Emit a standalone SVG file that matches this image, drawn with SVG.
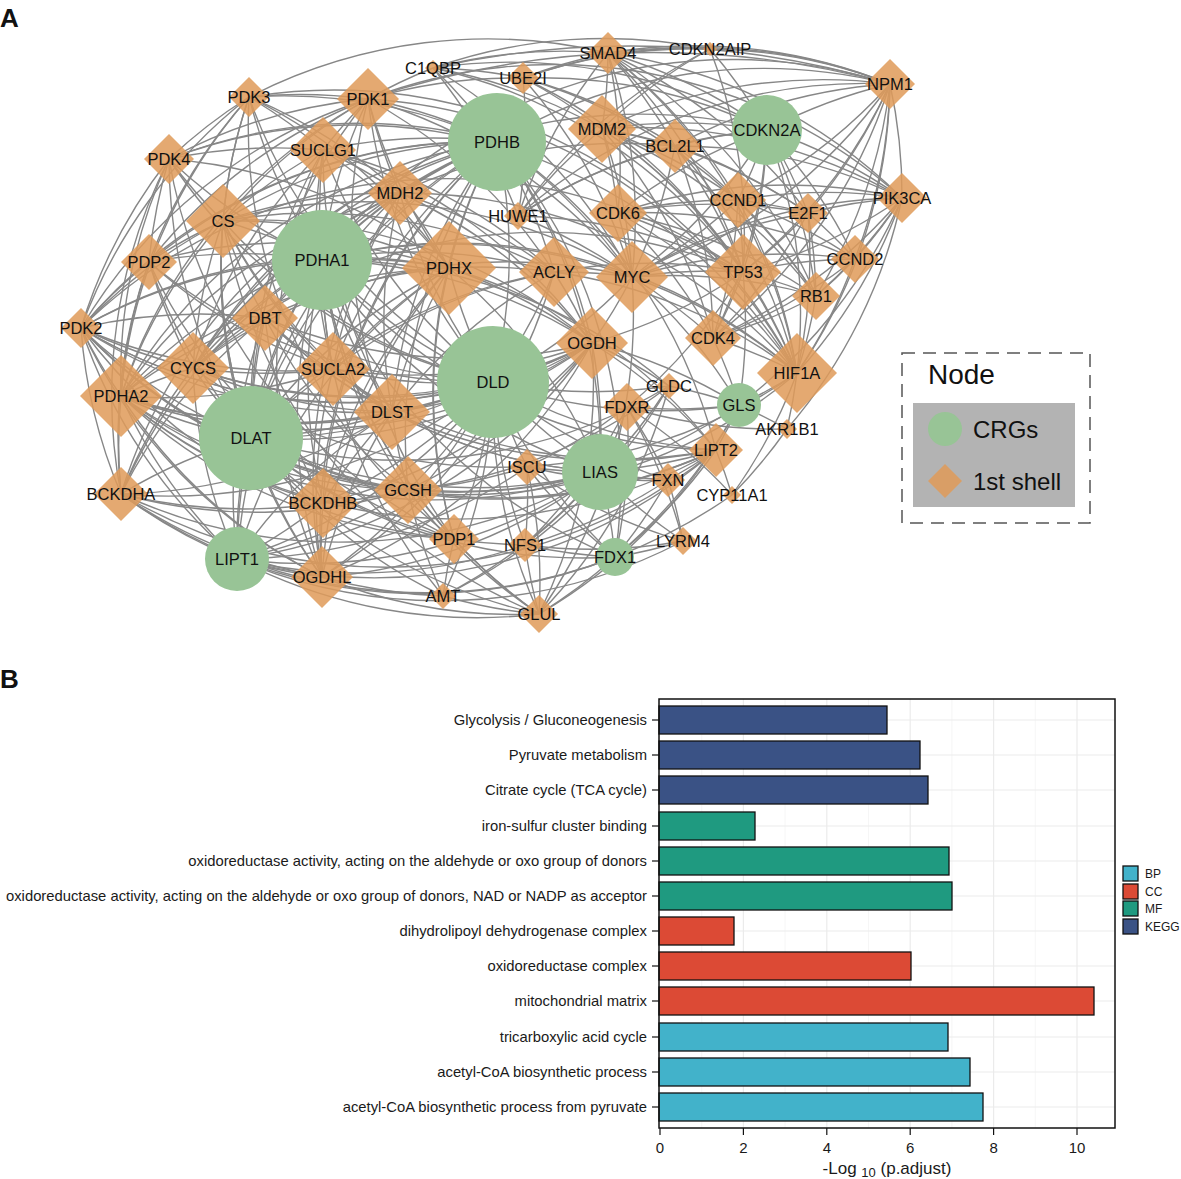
<svg xmlns="http://www.w3.org/2000/svg" width="1181" height="1179" viewBox="0 0 1181 1179">
<style>
.e path{fill:none;stroke:#878787;stroke-width:1.4}
.d{fill:#E09B5A;fill-opacity:0.86}
.c{fill:#98C496}
.t{font-family:"Liberation Sans",Arial,Helvetica,sans-serif;font-size:16.5px;text-anchor:middle;fill:#111}
.lab{font-family:"Liberation Sans",Arial,Helvetica,sans-serif;fill:#111}
.ax{font-family:"Liberation Sans",Arial,Helvetica,sans-serif;fill:#1a1a1a}
.bar{stroke:#111;stroke-width:1.3}
.gmaj{stroke:#EBEBEB;stroke-width:1.2}
.gmin{stroke:#F2F2F2;stroke-width:0.7}
</style>
<rect width="1181" height="1179" fill="#fff"/>
<text class="lab" x="0" y="27" font-size="26" font-weight="bold">A</text>
<text class="lab" x="0" y="688" font-size="26" font-weight="bold">B</text>
<g id="connectors" class="e">
<path d="M493 382A520 520 0 0 1 454 539"/><path d="M493 382A520 520 0 0 1 251 438"/><path d="M493 382A520 520 0 0 1 121 396"/><path d="M493 382A520 520 0 0 1 81 328"/><path d="M493 382A520 520 0 0 1 149 262"/><path d="M493 382A520 520 0 0 1 322 260"/><path d="M493 382A520 520 0 0 1 169 159"/><path d="M493 382A520 520 0 0 1 249 97"/><path d="M493 382A520 520 0 0 1 449 268"/><path d="M493 382A520 520 0 0 1 368 99"/><path d="M497 142A520 520 0 0 1 493 382"/>
<path d="M454 539A520 520 0 0 1 251 438"/><path d="M454 539A520 520 0 0 1 121 396"/><path d="M454 539A520 520 0 0 1 81 328"/><path d="M454 539A520 520 0 0 1 149 262"/><path d="M454 539A520 520 0 0 1 322 260"/><path d="M454 539A520 520 0 0 1 169 159"/><path d="M454 539A520 520 0 0 1 249 97"/><path d="M454 539A520 520 0 0 1 449 268"/><path d="M454 539A520 520 0 0 1 368 99"/><path d="M454 539A520 520 0 0 1 497 142"/>
<path d="M251 438A520 520 0 0 1 121 396"/><path d="M251 438A520 520 0 0 1 81 328"/><path d="M251 438A520 520 0 0 1 149 262"/><path d="M251 438A520 520 0 0 1 322 260"/><path d="M251 438A520 520 0 0 1 169 159"/><path d="M251 438A520 520 0 0 1 249 97"/><path d="M251 438A520 520 0 0 1 449 268"/><path d="M251 438A520 520 0 0 1 368 99"/><path d="M251 438A520 520 0 0 1 497 142"/>
<path d="M121 396A520 520 0 0 1 81 328"/><path d="M121 396A520 520 0 0 1 149 262"/><path d="M121 396A520 520 0 0 1 322 260"/><path d="M121 396A520 520 0 0 1 169 159"/><path d="M121 396A520 520 0 0 1 249 97"/><path d="M121 396A520 520 0 0 1 449 268"/><path d="M121 396A520 520 0 0 1 368 99"/><path d="M121 396A520 520 0 0 1 497 142"/>
<path d="M81 328A520 520 0 0 1 149 262"/><path d="M81 328A520 520 0 0 1 322 260"/><path d="M81 328A520 520 0 0 1 169 159"/><path d="M81 328A520 520 0 0 1 249 97"/><path d="M81 328A520 520 0 0 1 449 268"/><path d="M81 328A520 520 0 0 1 368 99"/><path d="M81 328A520 520 0 0 1 497 142"/>
<path d="M149 262A520 520 0 0 1 322 260"/><path d="M149 262A520 520 0 0 1 169 159"/><path d="M149 262A520 520 0 0 1 249 97"/><path d="M149 262A520 520 0 0 1 449 268"/><path d="M149 262A520 520 0 0 1 368 99"/><path d="M149 262A520 520 0 0 1 497 142"/>
<path d="M322 260A520 520 0 0 1 169 159"/><path d="M322 260A520 520 0 0 1 249 97"/><path d="M322 260A520 520 0 0 1 449 268"/><path d="M322 260A520 520 0 0 1 368 99"/><path d="M322 260A520 520 0 0 1 497 142"/>
<path d="M169 159A520 520 0 0 1 249 97"/><path d="M169 159A520 520 0 0 1 449 268"/><path d="M169 159A520 520 0 0 1 368 99"/><path d="M169 159A520 520 0 0 1 497 142"/>
<path d="M249 97A520 520 0 0 1 449 268"/><path d="M249 97A520 520 0 0 1 368 99"/><path d="M249 97A520 520 0 0 1 497 142"/><path d="M449 268A520 520 0 0 1 368 99"/><path d="M449 268A520 520 0 0 1 497 142"/><path d="M368 99A520 520 0 0 1 497 142"/>
<path d="M223 221A520 520 0 0 1 400 193"/><path d="M223 221A520 520 0 0 1 323 150"/><path d="M333 369A520 520 0 0 1 223 221"/><path d="M392 412A520 520 0 0 1 223 221"/><path d="M223 221A520 520 0 0 1 592 343"/><path d="M322 577A520 520 0 0 1 223 221"/><path d="M223 221A520 520 0 0 1 554 272"/>
<path d="M323 150A520 520 0 0 1 400 193"/><path d="M333 369A520 520 0 0 1 400 193"/><path d="M392 412A520 520 0 0 1 400 193"/><path d="M400 193A520 520 0 0 1 592 343"/><path d="M322 577A520 520 0 0 1 400 193"/><path d="M400 193A520 520 0 0 1 554 272"/>
<path d="M333 369A520 520 0 0 1 323 150"/><path d="M392 412A520 520 0 0 1 323 150"/><path d="M323 150A520 520 0 0 1 592 343"/><path d="M322 577A520 520 0 0 1 323 150"/><path d="M323 150A520 520 0 0 1 554 272"/>
<path d="M392 412A520 520 0 0 1 333 369"/><path d="M592 343A520 520 0 0 1 333 369"/><path d="M322 577A520 520 0 0 1 333 369"/><path d="M333 369A520 520 0 0 1 554 272"/>
<path d="M592 343A520 520 0 0 1 392 412"/><path d="M322 577A520 520 0 0 1 392 412"/><path d="M392 412A520 520 0 0 1 554 272"/><path d="M592 343A520 520 0 0 1 322 577"/><path d="M554 272A520 520 0 0 1 592 343"/><path d="M554 272A520 520 0 0 1 322 577"/>
<path d="M493 382A520 520 0 0 1 223 221"/><path d="M493 382A520 520 0 0 1 400 193"/><path d="M493 382A520 520 0 0 1 323 150"/><path d="M493 382A520 520 0 0 1 333 369"/><path d="M493 382A520 520 0 0 1 392 412"/><path d="M592 343A520 520 0 0 1 493 382"/><path d="M493 382A520 520 0 0 1 322 577"/><path d="M554 272A520 520 0 0 1 493 382"/>
<path d="M223 221A520 520 0 0 1 322 260"/><path d="M322 260A520 520 0 0 1 400 193"/><path d="M322 260A520 520 0 0 1 323 150"/><path d="M333 369A520 520 0 0 1 322 260"/><path d="M392 412A520 520 0 0 1 322 260"/><path d="M322 260A520 520 0 0 1 592 343"/><path d="M322 577A520 520 0 0 1 322 260"/><path d="M322 260A520 520 0 0 1 554 272"/>
<path d="M223 221A520 520 0 0 1 497 142"/><path d="M400 193A520 520 0 0 1 497 142"/><path d="M323 150A520 520 0 0 1 497 142"/><path d="M333 369A520 520 0 0 1 497 142"/><path d="M392 412A520 520 0 0 1 497 142"/><path d="M497 142A520 520 0 0 1 592 343"/><path d="M322 577A520 520 0 0 1 497 142"/><path d="M497 142A520 520 0 0 1 554 272"/>
<path d="M251 438A520 520 0 0 1 223 221"/><path d="M251 438A520 520 0 0 1 400 193"/><path d="M251 438A520 520 0 0 1 323 150"/><path d="M251 438A520 520 0 0 1 333 369"/><path d="M392 412A520 520 0 0 1 251 438"/><path d="M592 343A520 520 0 0 1 251 438"/><path d="M322 577A520 520 0 0 1 251 438"/><path d="M251 438A520 520 0 0 1 554 272"/>
<path d="M223 221A520 520 0 0 1 449 268"/><path d="M400 193A520 520 0 0 1 449 268"/><path d="M323 150A520 520 0 0 1 449 268"/><path d="M333 369A520 520 0 0 1 449 268"/><path d="M392 412A520 520 0 0 1 449 268"/><path d="M449 268A520 520 0 0 1 592 343"/><path d="M322 577A520 520 0 0 1 449 268"/><path d="M449 268A520 520 0 0 1 554 272"/>
<path d="M223 221A520 520 0 0 1 169 159"/><path d="M149 262A520 520 0 0 1 223 221"/><path d="M81 328A520 520 0 0 1 223 221"/><path d="M223 221A520 520 0 0 1 249 97"/><path d="M223 221A520 520 0 0 1 368 99"/><path d="M249 97A520 520 0 0 1 323 150"/><path d="M323 150A520 520 0 0 1 368 99"/><path d="M169 159A520 520 0 0 1 323 150"/><path d="M400 193A520 520 0 0 1 368 99"/><path d="M249 97A520 520 0 0 1 400 193"/>
<path d="M333 369A520 520 0 0 1 81 328"/><path d="M333 369A520 520 0 0 1 149 262"/><path d="M392 412A520 520 0 0 1 81 328"/><path d="M322 577A520 520 0 0 1 81 328"/><path d="M368 99A520 520 0 0 1 554 272"/><path d="M121 396A520 520 0 0 1 223 221"/><path d="M333 369A520 520 0 0 1 121 396"/><path d="M322 577A520 520 0 0 1 121 396"/><path d="M392 412A520 520 0 0 1 121 396"/><path d="M121 396A520 520 0 0 1 400 193"/>
<path d="M121 494A520 520 0 0 1 265 318"/><path d="M323 503A520 520 0 0 1 265 318"/><path d="M323 503A520 520 0 0 1 121 494"/><path d="M493 382A520 520 0 0 1 265 318"/><path d="M251 438A520 520 0 0 1 265 318"/><path d="M265 318A520 520 0 0 1 322 260"/><path d="M265 318A520 520 0 0 1 497 142"/><path d="M265 318A520 520 0 0 1 449 268"/><path d="M392 412A520 520 0 0 1 265 318"/><path d="M592 343A520 520 0 0 1 265 318"/><path d="M121 396A520 520 0 0 1 265 318"/><path d="M600 472A520 520 0 0 1 265 318"/><path d="M237 559A520 520 0 0 1 265 318"/><path d="M716 450A520 520 0 0 1 265 318"/><path d="M408 490A520 520 0 0 1 265 318"/><path d="M81 328A520 520 0 0 1 265 318"/><path d="M265 318A520 520 0 0 1 223 221"/>
<path d="M493 382A520 520 0 0 1 121 494"/><path d="M121 494A520 520 0 0 1 251 438"/><path d="M121 494A520 520 0 0 1 322 260"/><path d="M121 494A520 520 0 0 1 497 142"/><path d="M121 494A520 520 0 0 1 121 396"/><path d="M392 412A520 520 0 0 1 121 494"/><path d="M121 494A520 520 0 0 1 81 328"/><path d="M121 494A520 520 0 0 1 169 159"/><path d="M322 577A520 520 0 0 1 121 494"/><path d="M237 559A520 520 0 0 1 121 494"/><path d="M121 494A520 520 0 0 1 149 262"/>
<path d="M600 472A520 520 0 0 1 121 494"/><path d="M408 490A520 520 0 0 1 121 494"/><path d="M716 450A520 520 0 0 1 121 494"/><path d="M615 557A520 520 0 0 1 121 494"/><path d="M600 472A520 520 0 0 1 121 396"/><path d="M716 450A520 520 0 0 1 121 396"/><path d="M600 472A520 520 0 0 1 81 328"/><path d="M408 490A520 520 0 0 1 121 396"/><path d="M592 343A520 520 0 0 1 121 396"/><path d="M592 343A520 520 0 0 1 81 328"/><path d="M408 490A520 520 0 0 1 81 328"/>
<path d="M493 382A520 520 0 0 1 323 503"/><path d="M323 503A520 520 0 0 1 251 438"/><path d="M323 503A520 520 0 0 1 322 260"/><path d="M323 503A520 520 0 0 1 497 142"/><path d="M323 503A520 520 0 0 1 121 396"/><path d="M323 503A520 520 0 0 1 392 412"/><path d="M592 343A520 520 0 0 1 323 503"/><path d="M322 577A520 520 0 0 1 323 503"/><path d="M323 503A520 520 0 0 1 237 559"/><path d="M323 503A520 520 0 0 1 449 268"/>
<path d="M443 596A520 520 0 0 1 408 490"/><path d="M669 386A520 520 0 0 1 408 490"/><path d="M669 386A520 520 0 0 1 443 596"/><path d="M493 382A520 520 0 0 1 408 490"/><path d="M493 382A520 520 0 0 1 443 596"/><path d="M669 386A520 520 0 0 1 493 382"/><path d="M600 472A520 520 0 0 1 408 490"/><path d="M408 490A520 520 0 0 1 237 559"/><path d="M716 450A520 520 0 0 1 408 490"/><path d="M408 490A520 520 0 0 1 251 438"/><path d="M408 490A520 520 0 0 1 392 412"/><path d="M408 490A520 520 0 0 1 322 260"/><path d="M408 490A520 520 0 0 1 497 142"/><path d="M592 343A520 520 0 0 1 408 490"/><path d="M408 490A520 520 0 0 1 323 503"/>
<path d="M443 596A520 520 0 0 1 251 438"/><path d="M539 614A520 520 0 0 1 443 596"/><path d="M600 472A520 520 0 0 1 443 596"/><path d="M443 596A520 520 0 0 1 322 260"/><path d="M669 386A520 520 0 0 1 739 405"/><path d="M322 260A520 520 0 0 1 669 386"/><path d="M669 386A520 520 0 0 1 600 472"/><path d="M592 343A520 520 0 0 1 669 386"/><path d="M669 386A520 520 0 0 1 251 438"/><path d="M443 596A520 520 0 0 1 454 539"/><path d="M443 596A520 520 0 0 1 322 577"/>
<path d="M600 472A520 520 0 0 1 237 559"/><path d="M716 450A520 520 0 0 1 600 472"/><path d="M716 450A520 520 0 0 1 237 559"/><path d="M600 472A520 520 0 0 1 251 438"/><path d="M600 472A520 520 0 0 1 493 382"/><path d="M600 472A520 520 0 0 1 322 260"/><path d="M497 142A520 520 0 0 1 600 472"/><path d="M600 472A520 520 0 0 1 392 412"/><path d="M592 343A520 520 0 0 1 600 472"/><path d="M600 472A520 520 0 0 1 615 557"/><path d="M627 407A520 520 0 0 1 600 472"/><path d="M600 472A520 520 0 0 1 527 467"/><path d="M600 472A520 520 0 0 1 525 545"/><path d="M668 480A520 520 0 0 1 600 472"/><path d="M683 541A520 520 0 0 1 600 472"/><path d="M739 405A520 520 0 0 1 600 472"/><path d="M449 268A520 520 0 0 1 600 472"/><path d="M600 472A520 520 0 0 1 322 577"/>
<path d="M237 559A520 520 0 0 1 251 438"/><path d="M493 382A520 520 0 0 1 237 559"/><path d="M237 559A520 520 0 0 1 322 260"/><path d="M237 559A520 520 0 0 1 497 142"/><path d="M237 559A520 520 0 0 1 392 412"/><path d="M592 343A520 520 0 0 1 237 559"/><path d="M322 577A520 520 0 0 1 237 559"/><path d="M237 559A520 520 0 0 1 449 268"/><path d="M237 559A520 520 0 0 1 121 396"/><path d="M539 614A520 520 0 0 1 237 559"/><path d="M237 559A520 520 0 0 1 81 328"/>
<path d="M716 450A520 520 0 0 1 251 438"/><path d="M716 450A520 520 0 0 1 493 382"/><path d="M716 450A520 520 0 0 1 392 412"/><path d="M716 450A520 520 0 0 1 322 260"/><path d="M497 142A520 520 0 0 1 716 450"/><path d="M592 343A520 520 0 0 1 716 450"/><path d="M449 268A520 520 0 0 1 716 450"/>
<path d="M627 407A520 520 0 0 1 615 557"/><path d="M615 557A520 520 0 0 1 527 467"/><path d="M615 557A520 520 0 0 1 525 545"/><path d="M668 480A520 520 0 0 1 615 557"/><path d="M683 541A520 520 0 0 1 615 557"/><path d="M732 495A520 520 0 0 1 615 557"/><path d="M627 407A520 520 0 0 1 527 467"/><path d="M627 407A520 520 0 0 1 525 545"/><path d="M627 407A520 520 0 0 1 668 480"/><path d="M627 407A520 520 0 0 1 732 495"/><path d="M627 407A520 520 0 0 1 683 541"/><path d="M787 429A520 520 0 0 1 627 407"/>
<path d="M527 467A520 520 0 0 1 525 545"/><path d="M668 480A520 520 0 0 1 527 467"/><path d="M683 541A520 520 0 0 1 527 467"/><path d="M668 480A520 520 0 0 1 525 545"/><path d="M683 541A520 520 0 0 1 525 545"/><path d="M668 480A520 520 0 0 1 683 541"/><path d="M787 429A520 520 0 0 1 732 495"/>
<path d="M615 557A520 520 0 0 1 493 382"/><path d="M615 557A520 520 0 0 1 251 438"/><path d="M615 557A520 520 0 0 1 322 260"/><path d="M497 142A520 520 0 0 1 615 557"/><path d="M615 557A520 520 0 0 1 237 559"/><path d="M739 405A520 520 0 0 1 615 557"/><path d="M716 450A520 520 0 0 1 615 557"/><path d="M615 557A520 520 0 0 1 539 614"/><path d="M716 450A520 520 0 0 1 668 480"/><path d="M525 545A520 520 0 0 1 237 559"/><path d="M527 467A520 520 0 0 1 237 559"/><path d="M739 405A520 520 0 0 1 787 429"/><path d="M797 373A520 520 0 0 1 787 429"/><path d="M716 450A520 520 0 0 1 732 495"/><path d="M527 467A520 520 0 0 1 493 382"/><path d="M525 545A520 520 0 0 1 493 382"/><path d="M668 480A520 520 0 0 1 493 382"/><path d="M683 541A520 520 0 0 1 237 559"/><path d="M539 614A520 520 0 0 1 525 545"/><path d="M525 545A520 520 0 0 1 454 539"/><path d="M527 467A520 520 0 0 1 408 490"/>
<path d="M739 405A520 520 0 0 1 539 614"/><path d="M632 277A520 520 0 0 1 739 405"/><path d="M743 272A520 520 0 0 1 739 405"/><path d="M797 373A520 520 0 0 1 739 405"/><path d="M739 405A520 520 0 0 1 493 382"/><path d="M592 343A520 520 0 0 1 739 405"/><path d="M713 338A520 520 0 0 1 739 405"/><path d="M739 405A520 520 0 0 1 716 450"/><path d="M739 405A520 520 0 0 1 627 407"/>
<path d="M539 614A520 520 0 0 1 493 382"/><path d="M539 614A520 520 0 0 1 322 260"/><path d="M592 343A520 520 0 0 1 539 614"/><path d="M669 386A520 520 0 0 1 539 614"/><path d="M539 614A520 520 0 0 1 454 539"/><path d="M539 614A520 520 0 0 1 251 438"/><path d="M539 614A520 520 0 0 1 223 221"/><path d="M527 467A520 520 0 0 1 539 614"/><path d="M632 277A520 520 0 0 1 539 614"/><path d="M539 614A520 520 0 0 1 408 490"/><path d="M539 614A520 520 0 0 1 322 577"/>
<path d="M193 368A520 520 0 0 1 743 272"/><path d="M193 368A520 520 0 0 1 675 146"/><path d="M797 373A520 520 0 0 1 193 368"/><path d="M193 368A520 520 0 0 1 322 260"/><path d="M493 382A520 520 0 0 1 193 368"/><path d="M193 368A520 520 0 0 1 223 221"/><path d="M193 368A520 520 0 0 1 400 193"/><path d="M193 368A520 520 0 0 1 323 150"/><path d="M333 369A520 520 0 0 1 193 368"/><path d="M251 438A520 520 0 0 1 193 368"/><path d="M193 368A520 520 0 0 1 497 142"/><path d="M392 412A520 520 0 0 1 193 368"/><path d="M592 343A520 520 0 0 1 193 368"/><path d="M193 368A520 520 0 0 1 632 277"/><path d="M121 396A520 520 0 0 1 193 368"/><path d="M193 368A520 520 0 0 1 81 328"/><path d="M193 368A520 520 0 0 1 265 318"/><path d="M193 368A520 520 0 0 1 149 262"/><path d="M121 494A520 520 0 0 1 193 368"/><path d="M193 368A520 520 0 0 1 767 130"/><path d="M237 559A520 520 0 0 1 193 368"/>
<path d="M632 277A520 520 0 0 1 743 272"/><path d="M602 129A520 520 0 0 1 743 272"/><path d="M767 130A520 520 0 0 1 743 272"/><path d="M743 272A520 520 0 0 1 713 338"/><path d="M618 213A520 520 0 0 1 743 272"/><path d="M738 200A520 520 0 0 1 743 272"/><path d="M743 272A520 520 0 0 1 855 259"/><path d="M743 272A520 520 0 0 1 816 296"/><path d="M808 213A520 520 0 0 1 743 272"/><path d="M890 84A520 520 0 0 1 743 272"/><path d="M902 198A520 520 0 0 1 743 272"/><path d="M743 272A520 520 0 0 1 797 373"/><path d="M608 53A520 520 0 0 1 743 272"/><path d="M523 78A520 520 0 0 1 743 272"/><path d="M675 146A520 520 0 0 1 743 272"/><path d="M518 216A520 520 0 0 1 743 272"/><path d="M710 49A520 520 0 0 1 743 272"/><path d="M433 68A520 520 0 0 1 743 272"/><path d="M743 272A520 520 0 0 1 627 407"/><path d="M81 328A520 520 0 0 1 743 272"/><path d="M554 272A520 520 0 0 1 743 272"/><path d="M743 272A520 520 0 0 1 592 343"/>
<path d="M602 129A520 520 0 0 1 632 277"/><path d="M767 130A520 520 0 0 1 632 277"/><path d="M632 277A520 520 0 0 1 713 338"/><path d="M618 213A520 520 0 0 1 632 277"/><path d="M738 200A520 520 0 0 1 632 277"/><path d="M632 277A520 520 0 0 1 855 259"/><path d="M632 277A520 520 0 0 1 816 296"/><path d="M632 277A520 520 0 0 1 808 213"/><path d="M890 84A520 520 0 0 1 632 277"/><path d="M632 277A520 520 0 0 1 902 198"/><path d="M632 277A520 520 0 0 1 797 373"/><path d="M608 53A520 520 0 0 1 632 277"/><path d="M523 78A520 520 0 0 1 632 277"/><path d="M675 146A520 520 0 0 1 632 277"/><path d="M518 216A520 520 0 0 1 632 277"/><path d="M433 68A520 520 0 0 1 632 277"/><path d="M368 99A520 520 0 0 1 632 277"/><path d="M554 272A520 520 0 0 1 632 277"/><path d="M322 260A520 520 0 0 1 632 277"/><path d="M223 221A520 520 0 0 1 632 277"/><path d="M497 142A520 520 0 0 1 632 277"/><path d="M632 277A520 520 0 0 1 592 343"/><path d="M632 277A520 520 0 0 1 493 382"/>
<path d="M602 129A520 520 0 0 1 767 130"/><path d="M602 129A520 520 0 0 1 713 338"/><path d="M602 129A520 520 0 0 1 618 213"/><path d="M602 129A520 520 0 0 1 738 200"/><path d="M602 129A520 520 0 0 1 816 296"/><path d="M602 129A520 520 0 0 1 808 213"/><path d="M602 129A520 520 0 0 1 890 84"/><path d="M602 129A520 520 0 0 1 902 198"/><path d="M602 129A520 520 0 0 1 797 373"/><path d="M608 53A520 520 0 0 1 602 129"/><path d="M523 78A520 520 0 0 1 602 129"/><path d="M602 129A520 520 0 0 1 675 146"/><path d="M518 216A520 520 0 0 1 602 129"/><path d="M433 68A520 520 0 0 1 602 129"/><path d="M602 129A520 520 0 0 1 710 49"/>
<path d="M767 130A520 520 0 0 1 713 338"/><path d="M618 213A520 520 0 0 1 767 130"/><path d="M767 130A520 520 0 0 1 738 200"/><path d="M767 130A520 520 0 0 1 855 259"/><path d="M767 130A520 520 0 0 1 816 296"/><path d="M767 130A520 520 0 0 1 808 213"/><path d="M767 130A520 520 0 0 1 890 84"/><path d="M767 130A520 520 0 0 1 902 198"/><path d="M767 130A520 520 0 0 1 797 373"/><path d="M608 53A520 520 0 0 1 767 130"/><path d="M523 78A520 520 0 0 1 767 130"/><path d="M675 146A520 520 0 0 1 767 130"/><path d="M518 216A520 520 0 0 1 767 130"/><path d="M710 49A520 520 0 0 1 767 130"/><path d="M433 68A520 520 0 0 1 767 130"/>
<path d="M618 213A520 520 0 0 1 713 338"/><path d="M738 200A520 520 0 0 1 713 338"/><path d="M855 259A520 520 0 0 1 713 338"/><path d="M816 296A520 520 0 0 1 713 338"/><path d="M808 213A520 520 0 0 1 713 338"/><path d="M890 84A520 520 0 0 1 713 338"/><path d="M902 198A520 520 0 0 1 713 338"/><path d="M713 338A520 520 0 0 1 797 373"/><path d="M675 146A520 520 0 0 1 713 338"/>
<path d="M618 213A520 520 0 0 1 738 200"/><path d="M618 213A520 520 0 0 1 855 259"/><path d="M618 213A520 520 0 0 1 816 296"/><path d="M618 213A520 520 0 0 1 808 213"/><path d="M618 213A520 520 0 0 1 902 198"/><path d="M618 213A520 520 0 0 1 797 373"/><path d="M608 53A520 520 0 0 1 618 213"/>
<path d="M738 200A520 520 0 0 1 855 259"/><path d="M738 200A520 520 0 0 1 816 296"/><path d="M738 200A520 520 0 0 1 808 213"/><path d="M738 200A520 520 0 0 1 902 198"/><path d="M738 200A520 520 0 0 1 797 373"/><path d="M608 53A520 520 0 0 1 738 200"/><path d="M890 84A520 520 0 0 1 738 200"/><path d="M675 146A520 520 0 0 1 738 200"/>
<path d="M855 259A520 520 0 0 1 816 296"/><path d="M808 213A520 520 0 0 1 855 259"/><path d="M902 198A520 520 0 0 1 855 259"/><path d="M855 259A520 520 0 0 1 797 373"/>
<path d="M808 213A520 520 0 0 1 816 296"/><path d="M890 84A520 520 0 0 1 816 296"/><path d="M902 198A520 520 0 0 1 816 296"/><path d="M816 296A520 520 0 0 1 797 373"/><path d="M608 53A520 520 0 0 1 816 296"/><path d="M523 78A520 520 0 0 1 816 296"/>
<path d="M890 84A520 520 0 0 1 808 213"/><path d="M808 213A520 520 0 0 1 902 198"/><path d="M808 213A520 520 0 0 1 797 373"/><path d="M675 146A520 520 0 0 1 808 213"/><path d="M608 53A520 520 0 0 1 808 213"/>
<path d="M890 84A520 520 0 0 1 902 198"/><path d="M890 84A520 520 0 0 1 797 373"/><path d="M608 53A520 520 0 0 1 890 84"/><path d="M523 78A520 520 0 0 1 890 84"/><path d="M675 146A520 520 0 0 1 890 84"/><path d="M518 216A520 520 0 0 1 890 84"/><path d="M710 49A520 520 0 0 1 890 84"/><path d="M433 68A900 900 0 0 1 890 84"/><path d="M497 142A520 520 0 0 1 890 84"/><path d="M368 99A900 900 0 0 1 890 84"/><path d="M322 260A520 520 0 0 1 890 84"/><path d="M890 84A520 520 0 0 1 855 259"/>
<path d="M902 198A520 520 0 0 1 797 373"/><path d="M608 53A520 520 0 0 1 902 198"/><path d="M675 146A520 520 0 0 1 902 198"/><path d="M368 99A520 520 0 0 1 902 198"/><path d="M902 198A520 520 0 0 1 739 405"/><path d="M902 198A520 520 0 0 1 787 429"/>
<path d="M608 53A520 520 0 0 1 797 373"/><path d="M675 146A520 520 0 0 1 797 373"/><path d="M368 99A520 520 0 0 1 797 373"/><path d="M249 97A520 520 0 0 1 797 373"/><path d="M797 373A520 520 0 0 1 81 328"/><path d="M169 159A520 520 0 0 1 797 373"/><path d="M322 260A520 520 0 0 1 797 373"/><path d="M400 193A520 520 0 0 1 797 373"/><path d="M554 272A520 520 0 0 1 797 373"/><path d="M797 373A520 520 0 0 1 732 495"/>
<path d="M523 78A520 520 0 0 1 608 53"/><path d="M608 53A520 520 0 0 1 675 146"/><path d="M518 216A520 520 0 0 1 608 53"/><path d="M608 53A520 520 0 0 1 710 49"/><path d="M523 78A520 520 0 0 1 675 146"/><path d="M523 78A520 520 0 0 1 518 216"/><path d="M433 68A520 520 0 0 1 523 78"/><path d="M523 78A520 520 0 0 1 710 49"/><path d="M518 216A520 520 0 0 1 675 146"/><path d="M518 216A520 520 0 0 1 710 49"/><path d="M433 68A520 520 0 0 1 518 216"/><path d="M433 68A520 520 0 0 1 608 53"/><path d="M433 68A520 520 0 0 1 497 142"/><path d="M368 99A520 520 0 0 1 433 68"/><path d="M433 68A520 520 0 0 1 710 49"/><path d="M249 97A520 520 0 0 1 608 53"/><path d="M368 99A520 520 0 0 1 523 78"/>
</g>
<g id="nodes">
<g id="n-PDHX"><polygon class="d" points="449,221 496,268 449,315 402,268"/><text class="t" x="449" y="274">PDHX</text></g>
<g id="n-PDHA2"><polygon class="d" points="121,355 162,396 121,437 80,396"/><text class="t" x="121" y="402">PDHA2</text></g>
<g id="n-HIF1A"><polygon class="d" points="797,333 837,373 797,413 757,373"/><text class="t" x="797" y="379">HIF1A</text></g>
<g id="n-DLST"><polygon class="d" points="392,374 430,412 392,450 354,412"/><text class="t" x="392" y="418">DLST</text></g>
<g id="n-TP53"><polygon class="d" points="743,234 781,272 743,310 705,272"/><text class="t" x="743" y="278">TP53</text></g>
<g id="n-CS"><polygon class="d" points="223,184 260,221 223,258 186,221"/><text class="t" x="223" y="227">CS</text></g>
<g id="n-SUCLA2"><polygon class="d" points="333,332 370,369 333,406 296,369"/><text class="t" x="333" y="375">SUCLA2</text></g>
<g id="n-CYCS"><polygon class="d" points="193,332 229,368 193,404 157,368"/><text class="t" x="193" y="374">CYCS</text></g>
<g id="n-OGDH"><polygon class="d" points="592,307 628,343 592,379 556,343"/><text class="t" x="592" y="349">OGDH</text></g>
<g id="n-MYC"><polygon class="d" points="632,241 668,277 632,313 596,277"/><text class="t" x="632" y="283">MYC</text></g>
<g id="n-ACLY"><polygon class="d" points="554,237 589,272 554,307 519,272"/><text class="t" x="554" y="278">ACLY</text></g>
<g id="n-BCKDHB"><polygon class="d" points="323,468 358,503 323,538 288,503"/><text class="t" x="323" y="509">BCKDHB</text></g>
<g id="n-MDM2"><polygon class="d" points="602,95 636,129 602,163 568,129"/><text class="t" x="602" y="135">MDM2</text></g>
<g id="n-GCSH"><polygon class="d" points="408,456 442,490 408,524 374,490"/><text class="t" x="408" y="496">GCSH</text></g>
<g id="n-SUCLG1"><polygon class="d" points="323,117 356,150 323,183 290,150"/><text class="t" x="323" y="156">SUCLG1</text></g>
<g id="n-DBT"><polygon class="d" points="265,285 298,318 265,351 232,318"/><text class="t" x="265" y="324">DBT</text></g>
<g id="n-MDH2"><polygon class="d" points="400,161 432,193 400,225 368,193"/><text class="t" x="400" y="199">MDH2</text></g>
<g id="n-PDK1"><polygon class="d" points="368,68 399,99 368,130 337,99"/><text class="t" x="368" y="105">PDK1</text></g>
<g id="n-OGDHL"><polygon class="d" points="322,546 353,577 322,608 291,577"/><text class="t" x="322" y="583">OGDHL</text></g>
<g id="n-CDK6"><polygon class="d" points="618,184 647,213 618,242 589,213"/><text class="t" x="618" y="219">CDK6</text></g>
<g id="n-CCND1"><polygon class="d" points="738,172 766,200 738,228 710,200"/><text class="t" x="738" y="206">CCND1</text></g>
<g id="n-CDK4"><polygon class="d" points="713,310 741,338 713,366 685,338"/><text class="t" x="713" y="344">CDK4</text></g>
<g id="n-PDP2"><polygon class="d" points="149,234 177,262 149,290 121,262"/><text class="t" x="149" y="268">PDP2</text></g>
<g id="n-BCKDHA"><polygon class="d" points="121,467 148,494 121,521 94,494"/><text class="t" x="121" y="500">BCKDHA</text></g>
<g id="n-BCL2L1"><polygon class="d" points="675,119 702,146 675,173 648,146"/><text class="t" x="675" y="152">BCL2L1</text></g>
<g id="n-LIPT2"><polygon class="d" points="716,423 743,450 716,477 689,450"/><text class="t" x="716" y="456">LIPT2</text></g>
<g id="n-PDK4"><polygon class="d" points="169,134 194,159 169,184 144,159"/><text class="t" x="169" y="165">PDK4</text></g>
<g id="n-PDP1"><polygon class="d" points="454,514 479,539 454,564 429,539"/><text class="t" x="454" y="545">PDP1</text></g>
<g id="n-NPM1"><polygon class="d" points="890,59 915,84 890,109 865,84"/><text class="t" x="890" y="90">NPM1</text></g>
<g id="n-PIK3CA"><polygon class="d" points="902,173 927,198 902,223 877,198"/><text class="t" x="902" y="204">PIK3CA</text></g>
<g id="n-FDXR"><polygon class="d" points="627,383 651,407 627,431 603,407"/><text class="t" x="627" y="413">FDXR</text></g>
<g id="n-CCND2"><polygon class="d" points="855,235 879,259 855,283 831,259"/><text class="t" x="855" y="265">CCND2</text></g>
<g id="n-RB1"><polygon class="d" points="816,272 840,296 816,320 792,296"/><text class="t" x="816" y="302">RB1</text></g>
<g id="n-SMAD4"><polygon class="d" points="608,32 629,53 608,74 587,53"/><text class="t" x="608" y="59">SMAD4</text></g>
<g id="n-PDK3"><polygon class="d" points="249,77 269,97 249,117 229,97"/><text class="t" x="249" y="103">PDK3</text></g>
<g id="n-PDK2"><polygon class="d" points="81,308 101,328 81,348 61,328"/><text class="t" x="81" y="334">PDK2</text></g>
<g id="n-E2F1"><polygon class="d" points="808,193 828,213 808,233 788,213"/><text class="t" x="808" y="219">E2F1</text></g>
<g id="n-GLUL"><polygon class="d" points="539,595 558,614 539,633 520,614"/><text class="t" x="539" y="620">GLUL</text></g>
<g id="n-ISCU"><polygon class="d" points="527,449 545,467 527,485 509,467"/><text class="t" x="527" y="473">ISCU</text></g>
<g id="n-NFS1"><polygon class="d" points="525,528 542,545 525,562 508,545"/><text class="t" x="525" y="551">NFS1</text></g>
<g id="n-FXN"><polygon class="d" points="668,463 685,480 668,497 651,480"/><text class="t" x="668" y="486">FXN</text></g>
<g id="n-UBE2I"><polygon class="d" points="523,62 539,78 523,94 507,78"/><text class="t" x="523" y="84">UBE2I</text></g>
<g id="n-HUWE1"><polygon class="d" points="518,202 532,216 518,230 504,216"/><text class="t" x="518" y="222">HUWE1</text></g>
<g id="n-LYRM4"><polygon class="d" points="683,527 697,541 683,555 669,541"/><text class="t" x="683" y="547">LYRM4</text></g>
<g id="n-AMT"><polygon class="d" points="443,583 456,596 443,609 430,596"/><text class="t" x="443" y="602">AMT</text></g>
<g id="n-GLDC"><polygon class="d" points="669,373 682,386 669,399 656,386"/><text class="t" x="669" y="392">GLDC</text></g>
<g id="n-AKR1B1"><polygon class="d" points="787,419 797,429 787,439 777,429"/><text class="t" x="787" y="435">AKR1B1</text></g>
<g id="n-CYP11A1"><polygon class="d" points="732,486 741,495 732,504 723,495"/><text class="t" x="732" y="501">CYP11A1</text></g>
<g id="n-C1QBP"><polygon class="d" points="433,60 441,68 433,76 425,68"/><text class="t" x="433" y="74">C1QBP</text></g>
<g id="n-CDKN2AIP"><polygon class="d" points="710,42 717,49 710,56 703,49"/><text class="t" x="710" y="55">CDKN2AIP</text></g>
<g id="n-DLD"><circle class="c" cx="493" cy="382" r="56"/><text class="t" x="493" y="388">DLD</text></g>
<g id="n-DLAT"><circle class="c" cx="251" cy="438" r="52"/><text class="t" x="251" y="444">DLAT</text></g>
<g id="n-PDHA1"><circle class="c" cx="322" cy="260" r="50"/><text class="t" x="322" y="266">PDHA1</text></g>
<g id="n-PDHB"><circle class="c" cx="497" cy="142" r="49"/><text class="t" x="497" y="148">PDHB</text></g>
<g id="n-LIAS"><circle class="c" cx="600" cy="472" r="38"/><text class="t" x="600" y="478">LIAS</text></g>
<g id="n-CDKN2A"><circle class="c" cx="767" cy="130" r="35"/><text class="t" x="767" y="136">CDKN2A</text></g>
<g id="n-LIPT1"><circle class="c" cx="237" cy="559" r="32"/><text class="t" x="237" y="565">LIPT1</text></g>
<g id="n-GLS"><circle class="c" cx="739" cy="405" r="22"/><text class="t" x="739" y="411">GLS</text></g>
<g id="n-FDX1"><circle class="c" cx="615" cy="557" r="19"/><text class="t" x="615" y="563">FDX1</text></g>
</g>
<g id="node-legend">
<rect x="902" y="353" width="188" height="170" fill="none" stroke="#555" stroke-width="1.5" stroke-dasharray="13 8"/>
<text class="lab" x="928" y="384" font-size="28">Node</text>
<rect x="913" y="403" width="162" height="104" fill="#B3B3B3"/>
<circle class="c" cx="945" cy="429" r="17"/>
<text class="lab" x="973" y="438" font-size="24">CRGs</text>
<polygon class="d" points="945,464 962,481 945,498 928,481"/>
<text class="lab" x="973" y="490" font-size="24">1st shell</text>
</g>
<g id="bar-chart">
<g id="grid">
<line class="gmin" x1="701.7" y1="699" x2="701.7" y2="1128"/><line class="gmin" x1="785.1" y1="699" x2="785.1" y2="1128"/><line class="gmin" x1="868.5" y1="699" x2="868.5" y2="1128"/><line class="gmin" x1="951.9" y1="699" x2="951.9" y2="1128"/><line class="gmin" x1="1035.3" y1="699" x2="1035.3" y2="1128"/>
<line class="gmaj" x1="743.4" y1="699" x2="743.4" y2="1128"/><line class="gmaj" x1="826.8" y1="699" x2="826.8" y2="1128"/><line class="gmaj" x1="910.2" y1="699" x2="910.2" y2="1128"/><line class="gmaj" x1="993.6" y1="699" x2="993.6" y2="1128"/><line class="gmaj" x1="1077" y1="699" x2="1077" y2="1128"/>
<line class="gmaj" x1="659" y1="720" x2="1115" y2="720"/><line class="gmaj" x1="659" y1="755" x2="1115" y2="755"/><line class="gmaj" x1="659" y1="790" x2="1115" y2="790"/><line class="gmaj" x1="659" y1="826" x2="1115" y2="826"/><line class="gmaj" x1="659" y1="861" x2="1115" y2="861"/><line class="gmaj" x1="659" y1="896" x2="1115" y2="896"/><line class="gmaj" x1="659" y1="931" x2="1115" y2="931"/><line class="gmaj" x1="659" y1="966" x2="1115" y2="966"/><line class="gmaj" x1="659" y1="1001" x2="1115" y2="1001"/><line class="gmaj" x1="659" y1="1037" x2="1115" y2="1037"/><line class="gmaj" x1="659" y1="1072" x2="1115" y2="1072"/><line class="gmaj" x1="659" y1="1107" x2="1115" y2="1107"/>
</g>
<g id="bars">
<rect class="bar" x="659" y="706" width="228" height="28" fill="#3A5285"/>
<rect class="bar" x="659" y="741" width="261" height="28" fill="#3A5285"/>
<rect class="bar" x="659" y="776" width="269" height="28" fill="#3A5285"/>
<rect class="bar" x="659" y="812" width="96" height="28" fill="#1F9A80"/>
<rect class="bar" x="659" y="847" width="290" height="28" fill="#1F9A80"/>
<rect class="bar" x="659" y="882" width="293" height="28" fill="#1F9A80"/>
<rect class="bar" x="659" y="917" width="75" height="28" fill="#DC4A35"/>
<rect class="bar" x="659" y="952" width="252" height="28" fill="#DC4A35"/>
<rect class="bar" x="659" y="987" width="435" height="28" fill="#DC4A35"/>
<rect class="bar" x="659" y="1023" width="289" height="28" fill="#42B2CA"/>
<rect class="bar" x="659" y="1058" width="311" height="28" fill="#42B2CA"/>
<rect class="bar" x="659" y="1093" width="324" height="28" fill="#42B2CA"/>
</g>
<rect x="659" y="699" width="456" height="429" fill="none" stroke="#111" stroke-width="1.5"/>
<g id="y-ticks" stroke="#111" stroke-width="1.2">
<line x1="652" y1="720" x2="659" y2="720"/><line x1="652" y1="755" x2="659" y2="755"/><line x1="652" y1="790" x2="659" y2="790"/><line x1="652" y1="826" x2="659" y2="826"/><line x1="652" y1="861" x2="659" y2="861"/><line x1="652" y1="896" x2="659" y2="896"/><line x1="652" y1="931" x2="659" y2="931"/><line x1="652" y1="966" x2="659" y2="966"/><line x1="652" y1="1001" x2="659" y2="1001"/><line x1="652" y1="1037" x2="659" y2="1037"/><line x1="652" y1="1072" x2="659" y2="1072"/><line x1="652" y1="1107" x2="659" y2="1107"/>
</g>
<g id="x-ticks" stroke="#111" stroke-width="1.2">
<line x1="660" y1="1128" x2="660" y2="1135"/><line x1="743.4" y1="1128" x2="743.4" y2="1135"/><line x1="826.8" y1="1128" x2="826.8" y2="1135"/><line x1="910.2" y1="1128" x2="910.2" y2="1135"/><line x1="993.6" y1="1128" x2="993.6" y2="1135"/><line x1="1077" y1="1128" x2="1077" y2="1135"/>
</g>
<g id="y-labels" class="ax" font-size="14.8" text-anchor="end">
<text x="647" y="725">Glycolysis / Gluconeogenesis</text>
<text x="647" y="760">Pyruvate metabolism</text>
<text x="647" y="795">Citrate cycle (TCA cycle)</text>
<text x="647" y="831">iron-sulfur cluster binding</text>
<text x="647" y="866">oxidoreductase activity, acting on the aldehyde or oxo group of donors</text>
<text x="647" y="901">oxidoreductase activity, acting on the aldehyde or oxo group of donors, NAD or NADP as acceptor</text>
<text x="647" y="936">dihydrolipoyl dehydrogenase complex</text>
<text x="647" y="971">oxidoreductase complex</text>
<text x="647" y="1006">mitochondrial matrix</text>
<text x="647" y="1042">tricarboxylic acid cycle</text>
<text x="647" y="1077">acetyl-CoA biosynthetic process</text>
<text x="647" y="1112">acetyl-CoA biosynthetic process from pyruvate</text>
</g>
<g id="x-labels" class="ax" font-size="15" text-anchor="middle">
<text x="660" y="1153">0</text><text x="743.4" y="1153">2</text><text x="826.8" y="1153">4</text><text x="910.2" y="1153">6</text><text x="993.6" y="1153">8</text><text x="1077" y="1153">10</text>
</g>
<text class="ax" x="887" y="1174" font-size="17" text-anchor="middle">-Log <tspan font-size="13" dy="3">10</tspan><tspan dy="-3"> (p.adjust)</tspan></text>
<g id="bar-legend">
<rect class="bar" x="1123" y="866" width="15" height="15" fill="#42B2CA"/>
<rect class="bar" x="1123" y="884" width="15" height="15" fill="#DC4A35"/>
<rect class="bar" x="1123" y="901" width="15" height="15" fill="#1F9A80"/>
<rect class="bar" x="1123" y="919" width="15" height="15" fill="#3A5285"/>
<text class="ax" x="1145" y="878" font-size="12">BP</text>
<text class="ax" x="1145" y="896" font-size="12">CC</text>
<text class="ax" x="1145" y="913" font-size="12">MF</text>
<text class="ax" x="1145" y="931" font-size="12">KEGG</text>
</g>
</g>
</svg>
